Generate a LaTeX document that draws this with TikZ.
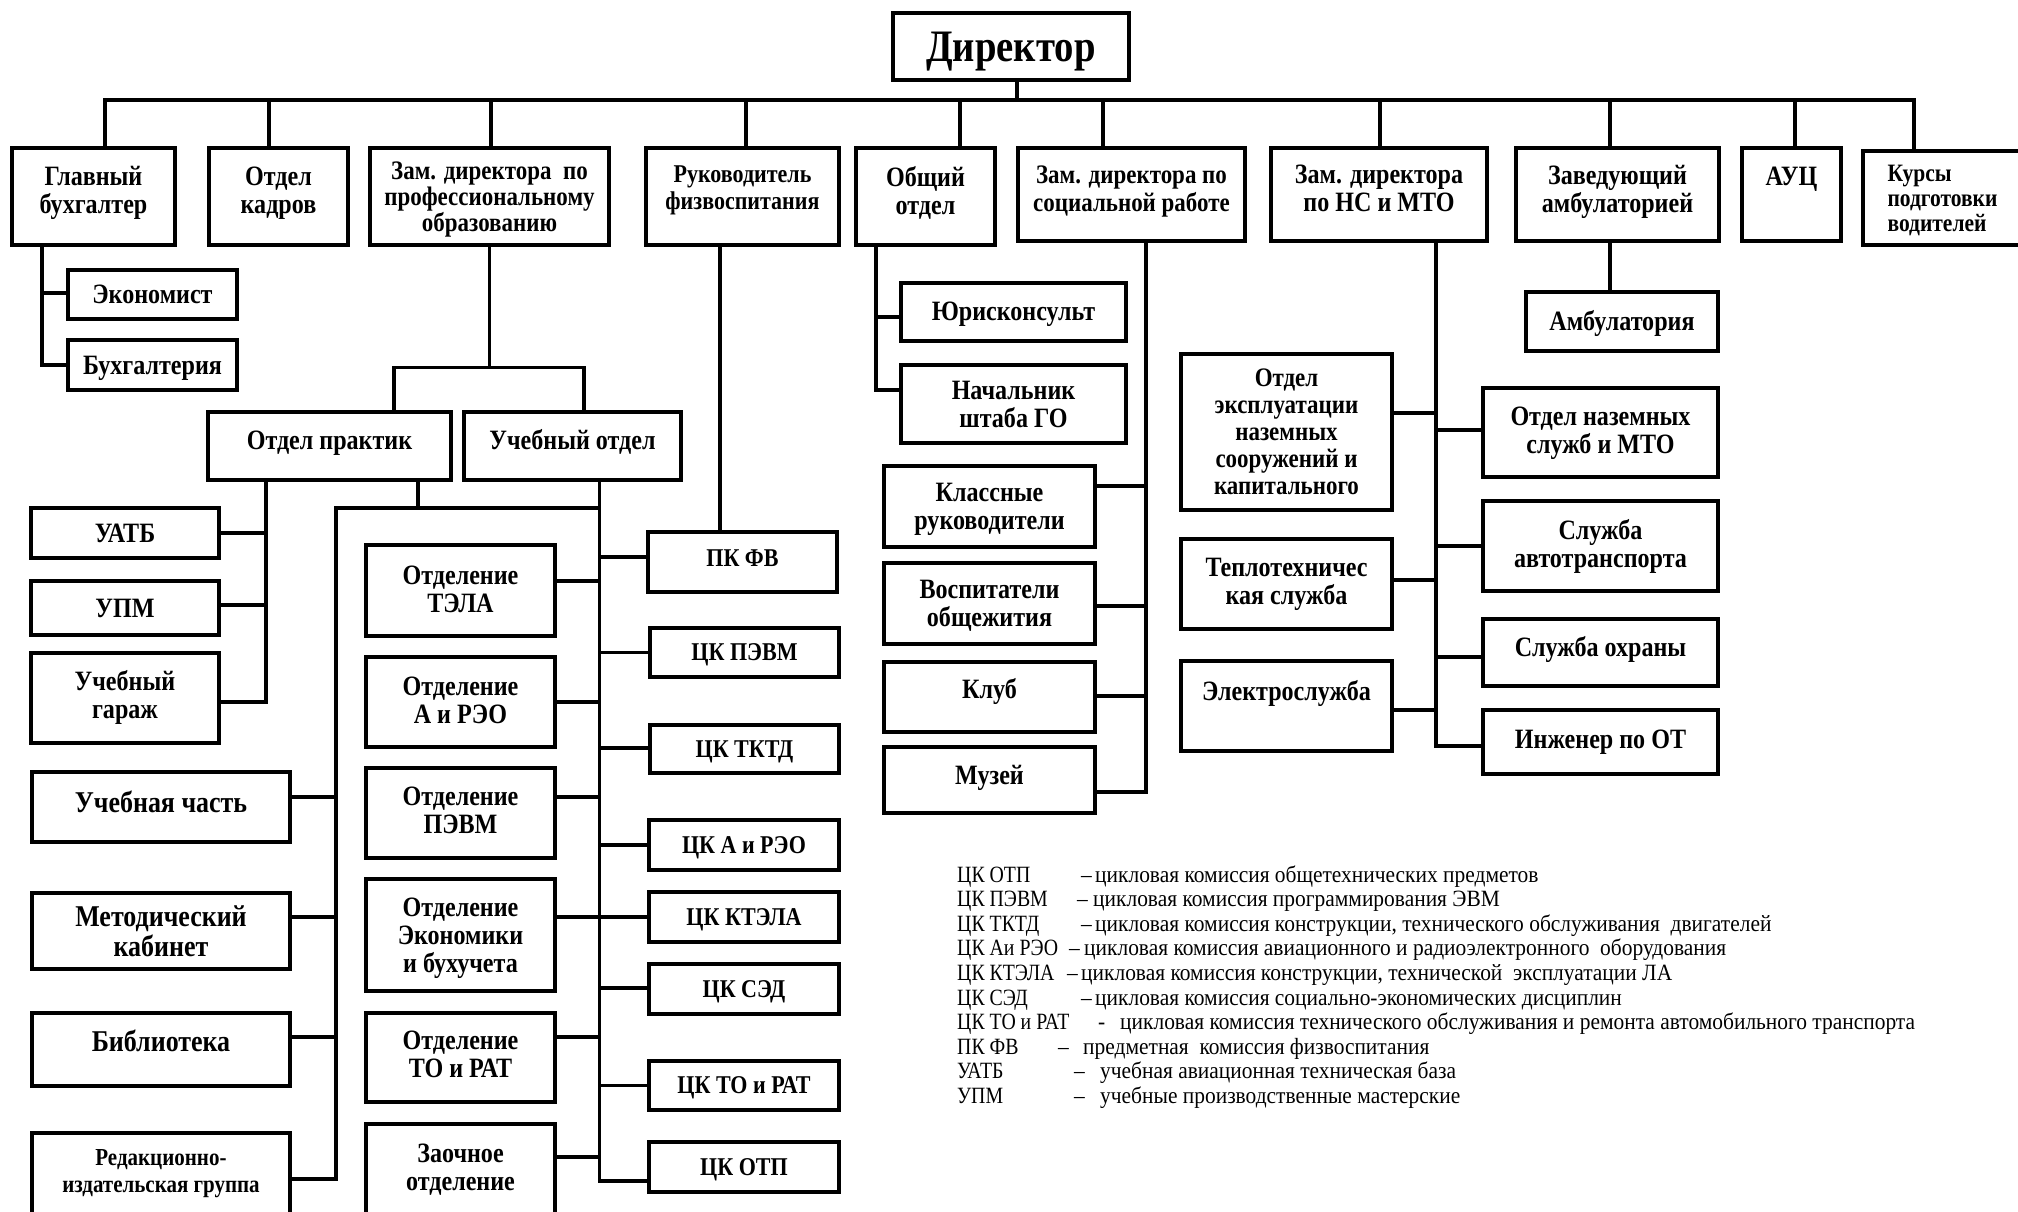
\documentclass[tikz,border=0pt]{standalone}
\usepackage{fontspec}
\setmainfont{Liberation Serif}
\newfontfamily\boxfont{Liberation Serif}[FakeStretch=0.86]
\newfontfamily\legfont{Liberation Serif}[FakeStretch=0.92]
\newfontfamily\abbrfont{Liberation Serif}[FakeStretch=0.85]
\tikzset{%
	orgbox/.style   = {draw, rectangle, line width=4.5pt, inner sep=0pt, align=center, font=\boxfont\bfseries\fontsize{28}{28}\selectfont},
	boxsize/.style 2 args = {minimum width=#1pt, minimum height=#2pt},
	txtup/.style    = {text depth={2*#1pt+5pt}}, % shifts the text up inside the box
	smalltext/.style= {font=\boxfont\bfseries\fontsize{25.6}{27}\selectfont},
	bigtext/.style  = {font=\boxfont\bfseries\fontsize{30.2}{30}\selectfont},
	conn/.style     = {line width=3.5pt, line cap=rect},
	waypoint/.style = {coordinate},
	legend/.style   = {anchor=base west, inner sep=0pt, font=\legfont\fontsize{23.3}{25}\selectfont},
}

\begin{document}
\begin{tikzpicture}[x=1pt, y=-1pt]
	\path[fill=white, use as bounding box] (0,0) rectangle (2018,1211);

	% top level
	\node[orgbox, boxsize={236}{67}, font=\boxfont\bfseries\fontsize{45}{48}\selectfont, text depth=-3pt] (dir) at (1011,46.5) {Директор};
	\node[orgbox, boxsize={163}{97}, txtup=4.4] (glav) at (93.5,196.5) {Главный\\бухгалтер};
	\node[orgbox, boxsize={139}{97}, txtup=3.8] (kadr) at (278.5,196.5) {Отдел\\кадров};
	\node[orgbox, boxsize={239}{97}, txtup=-7, font=\boxfont\bfseries\fontsize{26.7}{25.7}\selectfont] (zampr) at (489.5,196.5) {Зам. директора\ \ по\\профессиональному\\образованию};
	\node[orgbox, smalltext, boxsize={193}{97}, txtup=6.4] (ruk) at (742.5,196.5) {Руководитель\\физвоспитания};
	\node[orgbox, boxsize={139}{97}, txtup=3.2] (obsh) at (925.5,196.5) {Общий\\отдел};
	\node[orgbox, boxsize={227}{93}, txtup=3.3, font=\boxfont\bfseries\fontsize{26.7}{28}\selectfont] (zamsoc) at (1131.5,194.5) {Зам. директора по\\социальной работе};
	\node[orgbox, boxsize={216}{93}, txtup=3.3] (zamns) at (1379,194.5) {Зам. директора\\по НС и МТО};
	\node[orgbox, boxsize={203}{93}, txtup=3.3] (zav) at (1617.5,194.5) {Заведующий\\амбулаторией};
	\node[orgbox, boxsize={99}{93}, txtup=15.6] (auc) at (1791.5,194.5) {АУЦ};
	\node[orgbox, boxsize={159}{94}, txtup=-5, font=\boxfont\bfseries\fontsize{25}{25}\selectfont, align=left] (kurs) at (1942.5,198) {Курсы\\подготовки\\водителей};

	\node[waypoint] (busL) at (105,100) {};
	\node[waypoint] (busR) at (1914,100) {};
	\draw[conn] (busL) -- (busR);
	\draw[conn] ([xshift=6pt]dir.south) -- ([xshift=6pt]dir.south |- busL);
	\foreach \n/\s in {glav/11.5, kadr/-9.5, zampr/1.5, ruk/3.5, obsh/34.5, zamsoc/-28.5, zamns/1, zav/-7.5, auc/3.5, kurs/-28.5}
		\draw[conn] ([xshift=\s pt]\n.north) -- ([xshift=\s pt]\n.north |- busL);

	% chief accountant
	\node[orgbox, boxsize={169}{49}] (econ) at (152.5,294.5) {Экономист};
	\node[orgbox, boxsize={169}{50}, txtup=-3] (buh) at (152.5,365) {Бухгалтерия};
	\node[waypoint] (gstem) at ([xshift=-51.5pt]glav.south) {};
	\draw[conn] (gstem) |- (buh.west);
	\draw[conn] ([yshift=1.5pt]econ.west) -- ([yshift=1.5pt]econ.west -| gstem);

	% deputy for education
	\node[orgbox, boxsize={243}{68}, txtup=3] (prakt) at (329.5,446) {Отдел практик};
	\node[orgbox, boxsize={217}{68}, txtup=4.5] (uchot) at (572.5,446) {Учебный отдел};
	\node[waypoint] (zj) at ([yshift=-120pt]zampr.south) {};
	\draw[conn] (zampr.south) -- (zj);
	\draw[conn] ([xshift=64.5pt]prakt.north) |- (zj) -| ([xshift=11.5pt]uchot.north);

	\node[orgbox, boxsize={188}{50}] (uatb) at (125,533) {УАТБ};
	\node[orgbox, boxsize={188}{54}] (upm) at (125,608) {УПМ};
	\node[orgbox, boxsize={188}{90}, txtup=1.4] (garazh) at (125,698) {Учебный\\гараж};
	\node[waypoint] (pstem) at ([xshift=-63.5pt]prakt.south) {};
	\draw[conn] (pstem) |- ([yshift=-4pt]garazh.east);
	\draw[conn] (uatb.east) -- (uatb.east -| pstem);
	\draw[conn] ([yshift=3pt]upm.east) -- ([yshift=3pt]upm.east -| pstem);

	\node[orgbox, bigtext, boxsize={258}{70}, txtup=2.4] (uchch) at (161,807) {Учебная часть};
	\node[orgbox, bigtext, boxsize={258}{76}, txtup=-6.4] (metod) at (161,931) {Методический\\кабинет};
	\node[orgbox, bigtext, boxsize={258}{73}, txtup=5.9] (bibl) at (161,1049.5) {Библиотека};
	\node[orgbox, boxsize={258}{92}, txtup=5.3, font=\boxfont\bfseries\fontsize{24.4}{27}\selectfont] (redak) at (161,1179) {Редакционно-\\издательская группа};

	\node[orgbox, boxsize={189}{91}, txtup=-1] (otela) at (460.5,590.5) {Отделение\\ТЭЛА};
	\node[orgbox, boxsize={189}{90}, txtup=-0.4] (otaireo) at (460.5,702) {Отделение\\А и РЭО};
	\node[orgbox, boxsize={189}{90}, txtup=0.6] (otpevm) at (460.5,813) {Отделение\\ПЭВМ};
	\node[orgbox, boxsize={189}{112}, txtup=-2.6] (otecon) at (460.5,935) {Отделение\\Экономики\\и бухучета};
	\node[orgbox, boxsize={189}{89}, txtup=0.5] (ottorat) at (460.5,1057.5) {Отделение\\ТО и РАТ};
	\node[orgbox, boxsize={189}{101}, txtup=5] (zaoch) at (460.5,1174.5) {Заочное\\отделение};

	\node[orgbox, smalltext, boxsize={189}{60}, txtup=1] (pkfv) at (742.5,562) {ПК ФВ};
	\node[orgbox, smalltext, boxsize={189}{49}, txtup=-2.6] (cpevm) at (744.5,652.5) {ЦК ПЭВМ};
	\node[orgbox, smalltext, boxsize={189}{48}, txtup=-3.9] (ctktd) at (744.5,749) {ЦК ТКТД};
	\node[orgbox, smalltext, boxsize={190}{50}, txtup=-2.6] (caireo) at (744,845) {ЦК А и РЭО};
	\node[orgbox, smalltext, boxsize={190}{50}, txtup=-2.6] (cktela) at (744,917) {ЦК КТЭЛА};
	\node[orgbox, smalltext, boxsize={190}{50}, txtup=-2.6] (csed) at (744,989) {ЦК СЭД};
	\node[orgbox, smalltext, boxsize={190}{49}, txtup=-2.6] (ctorat) at (744,1085.5) {ЦК ТО и РАТ};
	\node[orgbox, smalltext, boxsize={190}{50}, txtup=-2.6] (cotp) at (744,1167) {ЦК ОТП};

	\node[waypoint] (pj) at ([xshift=88.5pt]prakt.south) {};
	\node[waypoint] (lbus) at (336,508) {};
	\node[waypoint] (ustem) at ([xshift=27pt]uchot.south) {};
	\draw[conn] (pj) -- (pj |- lbus);
	\draw[conn] (lbus) -- (lbus -| ustem);
	\draw[conn] (lbus) |- (redak.east);
	\draw[conn] (ustem) |- ([yshift=-14pt]cotp.west);
	\foreach \n/\s in {uchch/10, metod/14, bibl/12.5}
		\draw[conn] ([yshift=\s pt]\n.east) -- ([yshift=\s pt]\n.east -| lbus);
	\foreach \n/\s in {otela/9.5, otaireo/0, otpevm/16, otecon/18, ottorat/20.5, zaoch/17.5}
		\draw[conn] ([yshift=\s pt]\n.east) -- ([yshift=\s pt]\n.east -| ustem);
	\foreach \n/\s in {pkfv/5, cpevm/0, ctktd/1, caireo/0, cktela/0, csed/1, ctorat/0}
		\draw[conn] ([yshift=\s pt]\n.west) -- ([yshift=\s pt]\n.west -| ustem);
	\draw[conn] ([xshift=-22.5pt]ruk.south) -- ([xshift=-22.5pt]ruk.south |- pkfv.north);

	% general department
	\node[orgbox, boxsize={225}{58}, txtup=-1.3] (yur) at (1013.5,312) {Юрисконсульт};
	\node[orgbox, boxsize={225}{78}, txtup=-5.1] (nach) at (1013.5,404) {Начальник\\штаба ГО};
	\node[waypoint] (ostem) at ([xshift=-49.5pt]obsh.south) {};
	\draw[conn] (ostem) |- ([yshift=14pt]nach.west);
	\draw[conn] ([yshift=-5pt]yur.west) -- ([yshift=-5pt]yur.west -| ostem);

	% deputy for social work
	\node[orgbox, boxsize={211}{81}, txtup=-3.9] (klass) at (989.5,506.5) {Классные\\руководители};
	\node[orgbox, boxsize={211}{81}, txtup=-3.9] (vosp) at (989.5,603.5) {Воспитатели\\общежития};
	\node[orgbox, boxsize={211}{70}, txtup=5.7] (klub) at (989.5,697) {Клуб};
	\node[orgbox, boxsize={211}{66}, txtup=2.4] (muzey) at (989.5,780) {Музей};
	\node[waypoint] (sstem) at ([xshift=14.5pt]zamsoc.south) {};
	\draw[conn] (sstem) |- ([yshift=-12pt]muzey.east);
	\foreach \n/\s in {klass/20.5, vosp/-2.5, klub/1}
		\draw[conn] ([yshift=\s pt]\n.east) -- ([yshift=\s pt]\n.east -| sstem);

	% deputy for NS and MTO
	\node[orgbox, boxsize={211}{156}, txtup=-7, font=\boxfont\bfseries\fontsize{26.7}{27}\selectfont] (otexpl) at (1286.5,432) {Отдел\\эксплуатации\\наземных\\сооружений и\\капитального};
	\node[orgbox, boxsize={211}{90}, txtup=0] (teplo) at (1286.5,584) {Теплотехничес\\кая служба};
	\node[orgbox, boxsize={211}{90}, txtup=13.4] (elektro) at (1286.5,706) {Электрослужба};
	\node[orgbox, boxsize={235}{89}, txtup=-0.3] (otnaz) at (1600.5,432.5) {Отдел наземных\\служб и МТО};
	\node[orgbox, boxsize={235}{90}, txtup=0.4] (avto) at (1600.5,546) {Служба\\автотранспорта};
	\node[orgbox, boxsize={235}{67}, txtup=3.9] (ohrana) at (1600.5,652.5) {Служба охраны};
	\node[orgbox, boxsize={235}{64}, txtup=0.6] (inzh) at (1600.5,742) {Инженер по ОТ};
	\node[waypoint] (nstem) at ([xshift=57pt]zamns.south) {};
	\draw[conn] (nstem) |- ([yshift=-4pt]inzh.west);
	\foreach \n/\s in {otexpl/19, teplo/4, elektro/-4}
		\draw[conn] ([yshift=\s pt]\n.east) -- ([yshift=\s pt]\n.east -| nstem);
	\foreach \n/\s in {otnaz/2.5, avto/0, ohrana/-4.5}
		\draw[conn] ([yshift=\s pt]\n.west) -- ([yshift=\s pt]\n.west -| nstem);

	% outpatient clinic
	\node[orgbox, boxsize={192}{59}, txtup=-1.3] (ambul) at (1622,321.5) {Амбулатория};
	\draw[conn] ([xshift=-7.5pt]zav.south) -- ([xshift=-7.5pt]zav.south |- ambul.north);

	% legend
	\foreach \ab/\dd/\dx/\tx/\txt [count=\i] in {
		{ЦК ОТП}/{–}/1081/1095/{цикловая комиссия общетехнических предметов},
		{ЦК ПЭВМ}/{–}/1077/1093/{цикловая комиссия программирования ЭВМ},
		{ЦК ТКТД}/{–}/1081/1095/{цикловая комиссия конструкции, технического обслуживания\ \ двигателей},
		{ЦК Аи РЭО}/{–}/1069/1084/{цикловая комиссия авиационного и радиоэлектронного\ \ оборудования},
		{ЦК КТЭЛА}/{–}/1067/1081/{цикловая комиссия конструкции, технической\ \ эксплуатации ЛА},
		{ЦК СЭД}/{–}/1081/1095/{цикловая комиссия социально-экономических дисциплин},
		{ЦК ТО и РАТ}/{-}/1098/1120/{цикловая комиссия технического обслуживания и ремонта автомобильного транспорта},
		{ПК ФВ}/{–}/1058/1083/{предметная\ \ комиссия физвоспитания},
		{УАТБ}/{–}/1074/1100/{учебная авиационная техническая база},
		{УПМ}/{–}/1074/1100/{учебные производственные мастерские}}
	{
		\node[legend, font=\abbrfont\fontsize{23.3}{25}\selectfont] (la\i) at (957,{857.4+24.6*\i}) {\ab};
		\node[legend] (ld\i) at (\dx,{857.4+24.6*\i}) {\dd};
		\node[legend] (lt\i) at (\tx,{857.4+24.6*\i}) {\txt};
	}
\end{tikzpicture}
\end{document}
